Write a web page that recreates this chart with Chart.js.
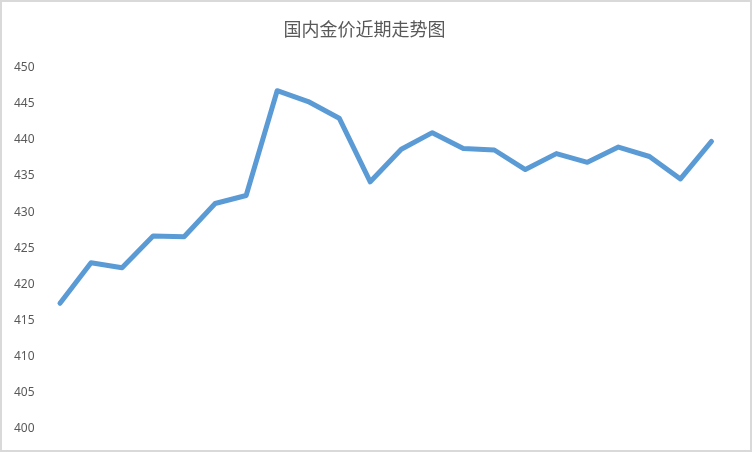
<!DOCTYPE html>
<html>
<head>
<meta charset="utf-8">
<script src="https://cdn.jsdelivr.net/npm/chart.js@4/dist/chart.umd.min.js"></script>
<style>
  body { margin: 0; background: #fff; }
  #wrap { width: 752px; height: 452px; box-sizing: border-box; border: 2px solid #d9d9d9; }
</style>
</head>
<body>
<div id="wrap"><canvas id="gold-chart" width="748" height="448"></canvas></div>
<script>
// 国内金价近期走势 - values
let days = [
  "1", "2", "3", "4", "5", "6", "7", "8", "9", "10", "11",
  "12", "13", "14", "15", "16", "17", "18", "19", "20", "21", "22",
];
let goldPrice = [
  417.4, 423.0, 422.3, 426.7, 426.6, 431.2, 432.3, 446.8, 445.3, 443.0, 434.2,
  438.7, 441.0, 438.8, 438.6, 435.9, 438.1, 436.9, 439.0, 437.7, 434.6, 439.8,
];
let yTicks = [400, 405, 410, 415, 420, 425, 430, 435, 440, 445, 450];

window.onload = function () {
  chartDraw();
};

let chartDraw = function () {
  let ctx = document.getElementById("gold-chart").getContext("2d");

  new Chart(ctx, {
    type: "line",
    data: {
      labels: days,
      datasets: [
        {
          data: goldPrice,
          borderColor: "#5b9bd5",
          borderWidth: 5,
          borderJoinStyle: "round",
          borderCapStyle: "round",
          pointRadius: 0,
          tension: 0,
          fill: false,
        },
      ],
    },
    options: {
      responsive: false,
      animation: false,
      layout: {
        padding: { left: 0, right: 23, bottom: 21, top: 0 },
      },
      plugins: {
        legend: { display: false },
        tooltip: { enabled: false },
        title: {
          display: true,
          text: "国内金价近期走势图",
          color: "#595959",
          font: { family: "'Noto Sans CJK SC'", size: 18, weight: "normal" },
          padding: { top: 16, bottom: 28 },
        },
      },
      scales: {
        x: {
          display: false,
          offset: true,
        },
        y: {
          min: 400,
          max: 450,
          afterFit: function (scale) {
            scale.width = 42.5;
          },
          afterBuildTicks: function (scale) {
            scale.ticks = yTicks.map(function (v) {
              return { value: v };
            });
          },
          border: { display: false },
          grid: { display: false, drawTicks: false },
          ticks: {
            color: "#595959",
            padding: 10,
            font: { family: "'Noto Sans'", size: 12 },
          },
        },
      },
    },
  });
};
</script>
</body>
</html>
